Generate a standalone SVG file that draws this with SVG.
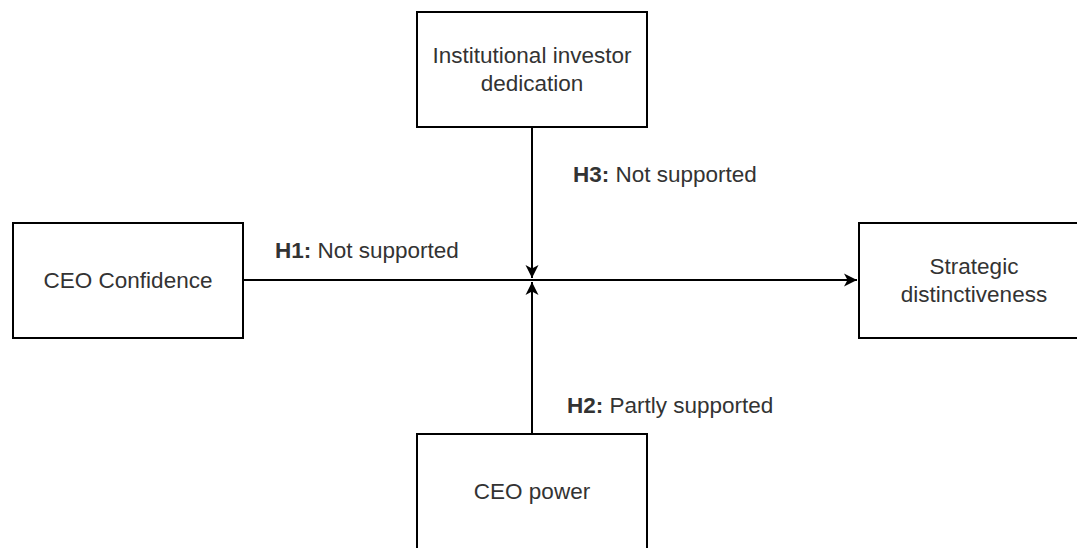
<svg xmlns="http://www.w3.org/2000/svg" width="1077" height="548" viewBox="0 0 1077 548">
<style>
.box{fill:#ffffff;stroke:#000000;stroke-width:2}
.t{font-family:"Liberation Sans",Arial,sans-serif;font-size:22.5px;fill:#333333;text-anchor:middle}
.lbl{font-family:"Liberation Sans",Arial,sans-serif;font-size:22.5px;fill:#333333}
.lbl tspan.b{font-weight:bold}
.edge{fill:none;stroke:#000000;stroke-width:2}
</style>
<defs>
<marker id="arr" markerUnits="userSpaceOnUse" markerWidth="16" markerHeight="14" refX="13" refY="6.5" orient="auto" viewBox="0 0 16 13">
<path d="M13,6.5 L0,0 L3.5,6.5 L0,13 Z" fill="#000000"/>
</marker>
</defs>
<rect width="1077" height="548" fill="#ffffff"/>
<g id="connectors">
<path class="edge" d="M243,280 L857,280" marker-end="url(#arr)"/>
<path class="edge" d="M532,127 L532,278" marker-end="url(#arr)"/>
<path class="edge" d="M532,434 L532,282" marker-end="url(#arr)"/>
</g>
<g id="node-investor">
<rect class="box" x="417" y="12" width="230" height="115"/>
<text class="t" x="532" y="63">Institutional investor</text>
<text class="t" x="532" y="91">dedication</text>
</g>
<g id="node-confidence">
<rect class="box" x="13" y="223" width="230" height="115"/>
<text class="t" x="128" y="288">CEO Confidence</text>
</g>
<g id="node-strategic">
<rect class="box" x="859" y="223" width="230" height="115"/>
<text class="t" x="974" y="274">Strategic</text>
<text class="t" x="974" y="302">distinctiveness</text>
</g>
<g id="node-power">
<rect class="box" x="417" y="434" width="230" height="115"/>
<text class="t" x="532" y="499">CEO power</text>
</g>
<g id="labels">
<text class="lbl" x="573" y="182"><tspan class="b">H3:</tspan> Not supported</text>
<text class="lbl" x="275" y="258"><tspan class="b">H1:</tspan> Not supported</text>
<text class="lbl" x="567" y="413"><tspan class="b">H2:</tspan> Partly supported</text>
</g>
</svg>
